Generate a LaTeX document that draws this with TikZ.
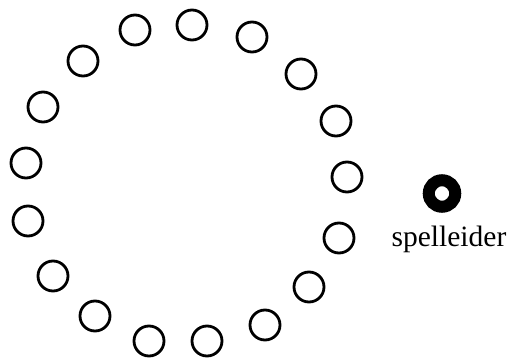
\documentclass[tikz,border=0pt]{standalone}
\usepackage{fontspec}
\setmainfont{Liberation Serif}
\begin{document}
\begin{tikzpicture}[x=1pt,y=-1pt,
  seat/.style={circle,draw,line width=2.8pt,minimum size=30pt,inner sep=0pt},
  leader/.style={circle,draw,line width=12pt,minimum size=26.5pt,inner sep=0pt},
  lbl/.style={font=\fontsize{29.5}{30}\selectfont,inner sep=0pt,anchor=base}]
\useasboundingbox (0,0) rectangle (509,358);
\node[seat] (s1) at (135,30) {};
\node[seat] (s2) at (192,25) {};
\node[seat] (s3) at (252,37) {};
\node[seat] (s4) at (301,74) {};
\node[seat] (s5) at (336,121) {};
\node[seat] (s6) at (347,177) {};
\node[seat] (s7) at (339,238) {};
\node[seat] (s8) at (309,287) {};
\node[seat] (s9) at (265,325) {};
\node[seat] (s10) at (207,341) {};
\node[seat] (s11) at (149,341) {};
\node[seat] (s12) at (95,316) {};
\node[seat] (s13) at (53,276) {};
\node[seat] (s14) at (28,221) {};
\node[seat] (s15) at (26,163) {};
\node[seat] (s16) at (43,107) {};
\node[seat] (s17) at (83,61) {};
\node[leader] (lead) at (442,193.5) {};
\node[lbl] (name) at (449,247) {spelleider};
\end{tikzpicture}
\end{document}
